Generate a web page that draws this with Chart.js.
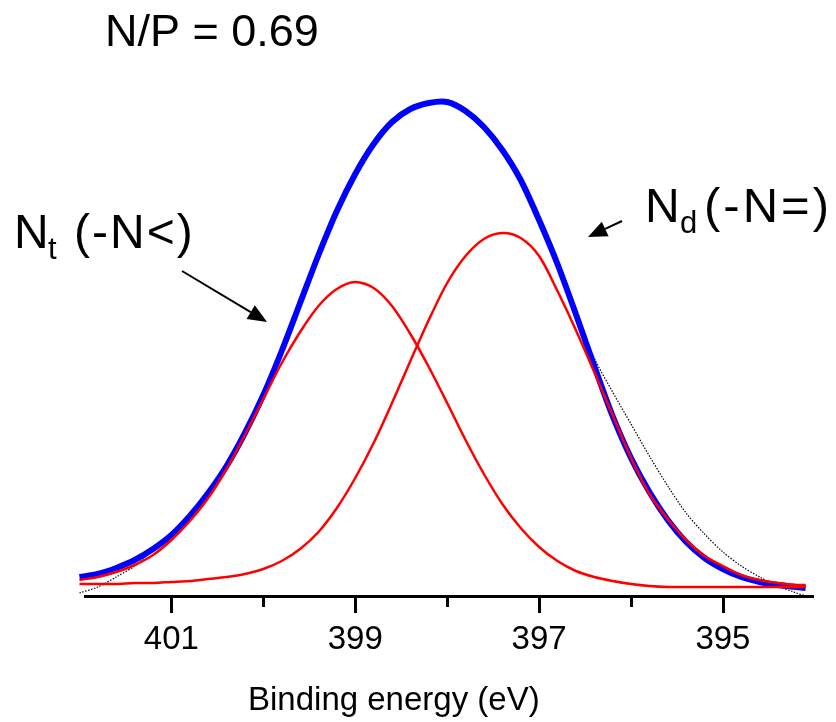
<!DOCTYPE html>
<html>
<head>
<meta charset="utf-8">
<script src="https://cdn.jsdelivr.net/npm/chart.js@4"></script>
<style>
  html, body { margin: 0; padding: 0; background: #fff; }
  canvas { display: block; }
</style>
</head>
<body>
<canvas id="xps" width="836" height="722"></canvas>
<script>
// binding energy (eV) of each sampled point
const energy = [402.0, 401.8, 401.6, 401.4, 401.2, 401.0, 400.8, 400.6, 400.4, 400.2,
  400.0, 399.8, 399.6, 399.4, 399.2, 399.0, 398.8, 398.6, 398.4, 398.2,
  398.0, 397.8, 397.6, 397.4, 397.2, 397.0, 396.8, 396.6, 396.4, 396.2,
  396.0, 395.8, 395.6, 395.4, 395.2, 395.0, 394.8, 394.6, 394.4, 394.2, 394.1];

// measured spectrum (dotted)
const rawCounts = [3, 9, 19, 30, 46, 61, 80, 103, 130, 163,
  201, 245, 293, 341, 385, 422, 450, 472, 486, 492,
  492, 483, 466, 443, 413, 373, 330, 282, 238, 204,
  172, 140, 110, 83, 62, 44, 30, 19, 10, 3, 0];

// fitted envelope (blue)
const envelope = [19, 22, 28, 36, 47, 61, 80, 103, 130, 163,
  201, 245, 293, 341, 385, 422, 452, 474, 487, 493,
  494, 485, 469, 446, 416, 376, 332, 282, 230, 180,
  138, 104, 76, 54, 38, 27, 19, 14, 11, 9, 8];

// Nt component (-N<)
const peakNt = [16, 19, 24, 31, 41, 56, 75, 98, 127, 161,
  197, 233, 264, 290, 307, 314, 308, 290, 262, 229,
  193, 156, 122, 92, 68, 49, 35, 25, 19, 15,
  12, 10, 9, 9, 9, 9, 9, 9, 9, 9, 9];

// Nd component (-N=)
const peakNd = [12, 12, 12, 13, 13, 14, 15, 17, 19, 22,
  27, 35, 47, 64, 88, 118, 153, 193, 235, 276,
  313, 340, 357, 363, 358, 340, 305, 266, 224, 181,
  138, 102, 77, 56, 40, 30, 21, 16, 13, 11, 11];

const majorTicks = [401, 399, 397, 395];
const minorTicks = [400, 398, 396];
const xTitle = 'Binding energy (eV)';

const FONT = '"Liberation Sans", Arial, Helvetica, sans-serif';

function toPoints(values) {
  return energy.map((e, i) => ({ x: e, y: values[i] }));
}

function arrow(ctx, x1, y1, x2, y2) {
  const ang = Math.atan2(y2 - y1, x2 - x1);
  const len = 19, half = 8;
  const bx = x2 - len * Math.cos(ang), by = y2 - len * Math.sin(ang);
  ctx.beginPath();
  ctx.moveTo(x1, y1);
  ctx.lineTo(bx, by);
  ctx.lineWidth = 2;
  ctx.strokeStyle = '#000';
  ctx.stroke();
  ctx.beginPath();
  ctx.moveTo(x2, y2);
  ctx.lineTo(bx + half * Math.sin(ang), by - half * Math.cos(ang));
  ctx.lineTo(bx - half * Math.sin(ang), by + half * Math.cos(ang));
  ctx.closePath();
  ctx.fillStyle = '#000';
  ctx.fill();
}

const decor = {
  id: 'decor',
  afterDraw(chart) {
    const ctx = chart.ctx;
    const xs = chart.scales.x;
    const y0 = chart.chartArea.bottom;
    ctx.save();
    // tick marks below the axis line
    ctx.strokeStyle = '#000';
    ctx.lineWidth = 3;
    majorTicks.forEach(v => {
      const px = Math.round(xs.getPixelForValue(v)) + 0.5;
      ctx.beginPath(); ctx.moveTo(px, y0); ctx.lineTo(px, y0 + 17); ctx.stroke();
    });
    minorTicks.forEach(v => {
      const px = Math.round(xs.getPixelForValue(v)) + 0.5;
      ctx.beginPath(); ctx.moveTo(px, y0); ctx.lineTo(px, y0 + 11); ctx.stroke();
    });

    ctx.fillStyle = '#000';
    ctx.textBaseline = 'alphabetic';
    ctx.textAlign = 'left';

    // axis title (sits left of centre in the original)
    ctx.font = '33px ' + FONT;
    ctx.fillText(xTitle, 248, 710);

    ctx.font = '45px ' + FONT;
    ctx.fillText('N/P = 0.69', 105, 46);

    ctx.font = '48px ' + FONT;
    ctx.fillText('N', 14, 248);
    ctx.font = '31px ' + FONT;
    ctx.fillText('t', 48, 259);
    ctx.font = '48px ' + FONT;
    ctx.letterSpacing = '2px';
    ctx.fillText('(-N<)', 74, 248);
    ctx.letterSpacing = '0px';

    ctx.font = '48px ' + FONT;
    ctx.fillText('N', 645, 222);
    ctx.font = '31px ' + FONT;
    ctx.fillText('d', 680, 233);
    ctx.font = '49px ' + FONT;
    ctx.letterSpacing = '3px';
    ctx.fillText('(-N=)', 704, 222);
    ctx.letterSpacing = '0px';

    arrow(ctx, 182, 271, 267, 322);
    arrow(ctx, 622, 221, 588, 237);
    ctx.restore();
  }
};

new Chart(document.getElementById('xps').getContext('2d'), {
  type: 'line',
  data: {
    datasets: [
      { label: 'Nt', data: toPoints(peakNt), borderColor: '#ff0000', borderWidth: 2.5, pointRadius: 0, tension: 0.3, clip: false },
      { label: 'Nd', data: toPoints(peakNd), borderColor: '#ff0000', borderWidth: 2.5, pointRadius: 0, tension: 0.3, clip: false },
      { label: 'Envelope', data: toPoints(envelope), borderColor: '#0000ff', borderWidth: 6, pointRadius: 0, tension: 0.3, clip: false },
      { label: 'Raw', data: toPoints(rawCounts), borderColor: '#000', borderWidth: 1.2, borderDash: [1.5, 1.5], pointRadius: 0, tension: 0.3, clip: false }
    ]
  },
  options: {
    responsive: false,
    devicePixelRatio: 1,
    animation: false,
    layout: { padding: { left: 85, right: 23, top: 60, bottom: 38 } },
    plugins: { legend: { display: false }, tooltip: { enabled: false } },
    scales: {
      x: {
        type: 'linear',
        reverse: true,
        min: 394.02,
        max: 401.94,
        grid: { display: false, drawTicks: false },
        border: { display: true, color: '#000', width: 3 },
        ticks: {
          stepSize: 1,
          includeBounds: false,
          autoSkip: false,
          maxRotation: 0,
          padding: 27.5,
          color: '#000',
          font: { family: FONT, size: 33, lineHeight: 1 },
          callback: v => majorTicks.includes(v) ? String(v) : ''
        }
      },
      y: { display: false, min: 0, max: 536 }
    }
  },
  plugins: [decor]
});
</script>
</body>
</html>
